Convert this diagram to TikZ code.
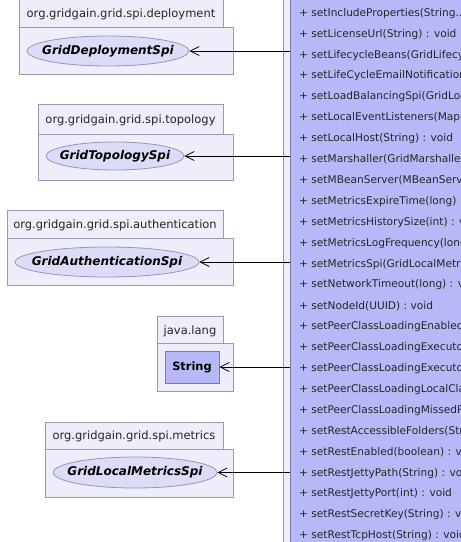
\documentclass[tikz,border=0pt]{standalone}
\usepackage{fontspec}
\setmainfont{DejaVu Sans}
\usetikzlibrary{arrows.meta,shapes.geometric}
\definecolor{pkgfill}{HTML}{EEEEFB}
\definecolor{pkgline}{HTML}{9A9AAE}
\definecolor{ellfill}{HTML}{DCDCF8}
\definecolor{ellline}{HTML}{9494BC}
\definecolor{clsfill}{HTML}{B8B8F8}
\definecolor{clsline}{HTML}{7A7AAA}
\tikzset{
  pkgbox/.style={draw=pkgline, fill=pkgfill, line width=0.8pt},
  pkglabel/.style={font=\fontsize{11.5}{13}\selectfont, text=black!85, inner sep=0pt},
  iface/.style={ellipse, draw=ellline, fill=ellfill, line width=0.8pt, inner xsep=-30pt, inner ysep=-6pt,
    font=\fontsize{12}{14}\selectfont\bfseries\itshape},
  clsbox/.style={draw=clsline, fill=clsfill, line width=0.8pt, inner sep=0pt,
    font=\fontsize{11.4}{13}\selectfont\bfseries},
  member/.style={anchor=west, inner sep=0pt, font=\fontsize{10.6}{12}\selectfont, text=black!85},
  dep/.style={line width=0.8pt, -{Straight Barb[length=9pt,width=9pt,line width=0.8pt]}}
}
\newcommand{\rowy}[1]{13.3+(#1-1)*20.9}
\begin{document}
\begin{tikzpicture}[x=1pt,y=-1pt]
\useasboundingbox (0,0) rectangle (461,542);
\fill[white] (0,0) rectangle (461,542);
% outer package of the main class
\draw[pkgbox] (283,-10) rectangle (480,560);
\node[clsbox, minimum width=200pt, minimum height=580pt, anchor=north west] (cls) at (290,-15) {};
% members
\node[member] (m1) at (299,{\rowy{1}}) {+ setIncludeProperties(String...) : void};
\node[member] (m2) at (299,{\rowy{2}}) {+ setLicenseUrl(String) : void};
\node[member] (m3) at (299,{\rowy{3}}) {+ setLifecycleBeans(GridLifecycleBean...) : void};
\node[member] (m4) at (299,{\rowy{4}}) {+ setLifeCycleEmailNotification(boolean) : void};
\node[member] (m5) at (299,{\rowy{5}}) {+ setLoadBalancingSpi(GridLoadBalancingSpi...) : void};
\node[member] (m6) at (299,{\rowy{6}}) {+ setLocalEventListeners(Map) : void};
\node[member] (m7) at (299,{\rowy{7}}) {+ setLocalHost(String) : void};
\node[member] (m8) at (299,{\rowy{8}}) {+ setMarshaller(GridMarshaller) : void};
\node[member] (m9) at (299,{\rowy{9}}) {+ setMBeanServer(MBeanServer) : void};
\node[member] (m10) at (299,{\rowy{10}}) {+ setMetricsExpireTime(long) : void};
\node[member] (m11) at (299,{\rowy{11}}) {+ setMetricsHistorySize(int) : void};
\node[member] (m12) at (299,{\rowy{12}}) {+ setMetricsLogFrequency(long) : void};
\node[member] (m13) at (299,{\rowy{13}}) {+ setMetricsSpi(GridLocalMetricsSpi) : void};
\node[member] (m14) at (299,{\rowy{14}}) {+ setNetworkTimeout(long) : void};
\node[member] (m15) at (299,{\rowy{15}}) {+ setNodeId(UUID) : void};
\node[member] (m16) at (299,{\rowy{16}}) {+ setPeerClassLoadingEnabled(boolean) : void};
\node[member] (m17) at (299,{\rowy{17}}) {+ setPeerClassLoadingExecutorService(ExecutorService) : void};
\node[member] (m18) at (299,{\rowy{18}}) {+ setPeerClassLoadingExecutorServiceShutdown(boolean) : void};
\node[member] (m19) at (299,{\rowy{19}}) {+ setPeerClassLoadingLocalClassPathExclude(String...) : void};
\node[member] (m20) at (299,{\rowy{20}}) {+ setPeerClassLoadingMissedResourcesCacheSize(int) : void};
\node[member] (m21) at (299,{\rowy{21}}) {+ setRestAccessibleFolders(String...) : void};
\node[member] (m22) at (299,{\rowy{22}}) {+ setRestEnabled(boolean) : void};
\node[member] (m23) at (299,{\rowy{23}}) {+ setRestJettyPath(String) : void};
\node[member] (m24) at (299,{\rowy{24}}) {+ setRestJettyPort(int) : void};
\node[member] (m25) at (299,{\rowy{25}}) {+ setRestSecretKey(String) : void};
\node[member] (m26) at (299,{\rowy{26}}) {+ setRestTcpHost(String) : void};
% package: deployment
\draw[pkgbox] (19,-2) rectangle (223,27);
\node[pkglabel] (p1) at (121,14) {org.gridgain.grid.spi.deployment};
\draw[pkgbox] (19,27) rectangle (233,74);
\node[iface, minimum width=162pt, minimum height=30pt] (e1) at (108,51) {GridDeploymentSpi};
% package: topology
\draw[pkgbox] (38,104) rectangle (223,134);
\node[pkglabel] (p2) at (130.5,120) {org.gridgain.grid.spi.topology};
\draw[pkgbox] (38,134) rectangle (233,180);
\node[iface, minimum width=138pt, minimum height=28pt] (e2) at (115,156) {GridTopologySpi};
% package: authentication
\draw[pkgbox] (7,210) rectangle (223,238);
\node[pkglabel] (p3) at (115,225) {org.gridgain.grid.spi.authentication};
\draw[pkgbox] (7,238) rectangle (233,285);
\node[iface, minimum width=184pt, minimum height=30pt] (e3) at (107,262) {GridAuthenticationSpi};
% package: java.lang
\draw[pkgbox] (157,316) rectangle (223,343);
\node[pkglabel] (p4) at (190,331) {java.lang};
\draw[pkgbox] (157,343) rectangle (233,391);
\node[clsbox, minimum width=54pt, minimum height=32pt] (s) at (192,367) {String};
% package: metrics
\draw[pkgbox] (45,422) rectangle (223,449);
\node[pkglabel] (p5) at (134,436) {org.gridgain.grid.spi.metrics};
\draw[pkgbox] (45,449) rectangle (233,497);
\node[iface, minimum width=164pt, minimum height=31pt] (e5) at (135,472.5) {GridLocalMetricsSpi};
% dependencies
\draw[dep] (cls.west |- e1) -- (e1);
\draw[dep] (cls.west |- e2) -- (e2);
\draw[dep] (cls.west |- e3) -- (e3);
\draw[dep] (cls.west |- s) -- (s);
\draw[dep] (cls.west |- e5) -- (e5);
\end{tikzpicture}
\end{document}
